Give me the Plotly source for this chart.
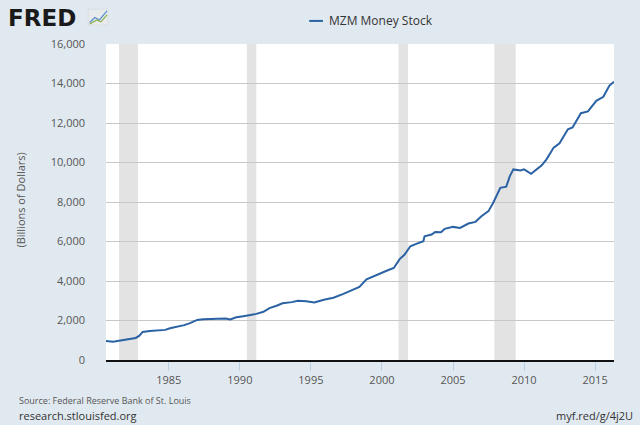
import plotly.graph_objects as go

# MZM money stock, billions of dollars
dates = ["1980-08-01", "1981-02-01", "1981-07-01", "1982-01-01", "1982-09-01", "1982-12-01",
         "1983-03-01", "1983-09-01", "1984-04-01", "1984-10-01", "1985-02-01", "1985-08-01",
         "1986-02-01", "1986-07-01", "1987-01-01", "1987-06-01", "1988-02-01", "1988-08-01",
         "1989-01-01", "1989-05-01", "1989-10-01", "1990-04-01", "1990-11-01", "1991-03-01",
         "1991-09-01", "1992-02-01", "1992-08-01", "1993-01-01", "1993-09-01", "1994-02-01",
         "1994-09-01", "1995-04-01", "1995-12-01", "1996-08-01", "1997-04-01", "1998-01-01",
         "1998-06-01", "1998-12-01", "1999-05-01", "1999-11-01", "2000-05-01", "2000-11-01",
         "2001-04-01", "2001-08-01", "2002-01-01", "2002-06-01", "2002-12-01", "2003-01-01",
         "2003-07-01", "2003-10-01", "2004-03-01", "2004-06-01", "2005-01-01", "2005-07-01",
         "2006-02-01", "2006-08-01", "2007-01-01", "2007-07-01", "2007-11-01", "2008-05-01",
         "2008-10-01", "2009-01-01", "2009-04-01", "2009-10-01", "2010-01-01", "2010-07-01",
         "2010-12-01", "2011-04-01", "2011-08-01", "2012-02-01", "2012-07-01", "2013-02-01",
         "2013-06-01", "2014-01-01", "2014-07-01", "2015-02-01", "2015-08-01", "2016-01-01",
         "2016-05-01"]
mzm = [960, 930, 975, 1045, 1115, 1220,
       1420, 1470, 1505, 1525, 1610, 1675,
       1765, 1865, 2030, 2065, 2085, 2115,
       2100, 2050, 2165, 2220, 2270, 2335,
       2440, 2625, 2745, 2875, 2930, 2995,
       2980, 2910, 3050, 3150, 3335, 3555,
       3700, 4080, 4220, 4360, 4520, 4660,
       5110, 5330, 5760, 5880, 6010, 6260,
       6350, 6485, 6465, 6640, 6740, 6690,
       6910, 6995, 7280, 7535, 7960, 8720,
       8775, 9310, 9650, 9600, 9650, 9430,
       9650, 9855, 10160, 10755, 10975, 11685,
       11770, 12495, 12585, 13120, 13325, 13885,
       14090]

# NBER recessions
rec_start = ["1981-07-01", "1990-07-01", "2001-03-01", "2007-12-01"]
rec_end = ["1982-11-01", "1991-03-01", "2001-11-01", "2009-06-01"]

line_color = "#2a62a3"

fig = go.Figure()
fig.add_trace(go.Scatter(x=dates, y=mzm, mode="lines", name="MZM Money Stock",
                         line=dict(color=line_color, width=2), showlegend=False))

for s, e in zip(rec_start, rec_end):
    fig.add_vrect(x0=s, x1=e, fillcolor="#e3e3e3", opacity=1, line_width=0, layer="below")

fig.update_layout(
    width=640, height=425,
    margin=dict(l=106, r=26, t=44, b=65, autoexpand=False),
    paper_bgcolor="#e1e9f0", plot_bgcolor="white",
    font=dict(family="Open Sans", size=11, color="#555555"),
    xaxis=dict(range=["1980-08-01", "2016-05-01"], showgrid=False,
               tickvals=["1985-01-01", "1990-01-01", "1995-01-01", "2000-01-01",
                         "2005-01-01", "2010-01-01", "2015-01-01"],
               ticktext=["1985", "1990", "1995", "2000", "2005", "2010", "2015"],
               ticks="outside", ticklen=9, tickcolor="#bcd0e4",
               showline=True, linecolor="#111111", linewidth=2, zeroline=False),
    yaxis=dict(range=[0, 16000], dtick=2000, tickformat=",d", showgrid=True,
               gridcolor="#c8c8c8", gridwidth=1, zeroline=False, ticks="",
               ticklabelstandoff=20),
)

# legend drawn by hand (short line sample like FRED's)
fig.add_shape(type="line", xref="paper", yref="paper", x0=0.400, x1=0.427, y0=1.073, y1=1.073,
              line=dict(color=line_color, width=2))
fig.add_annotation(text="MZM Money Stock", x=0.435, y=1.073, xref="paper", yref="paper",
                   xanchor="left", yanchor="middle", showarrow=False,
                   font=dict(size=12, color="#333333"))

# y-axis title
fig.add_annotation(text="(Billions of Dollars)", x=-0.169, y=0.505, xref="paper", yref="paper",
                   textangle=-90, xanchor="center", yanchor="middle", showarrow=False,
                   font=dict(size=11, color="#555555"))

# FRED logo
fig.add_annotation(text="<b>FRED</b>", x=-0.196, y=1.081, xref="paper", yref="paper",
                   xanchor="left", yanchor="middle", showarrow=False,
                   font=dict(family="DejaVu Sans", size=23, color="#1a1a1a"))
fig.add_shape(type="rect", xref="paper", yref="paper", x0=-0.035, x1=0.004, y0=1.060, y1=1.110,
              fillcolor="#e8eaec", line=dict(color="#cfd4d9", width=0.5))
fig.add_shape(type="path", xref="paper", yref="paper",
              path="M -0.032 1.068 L -0.022 1.084 L -0.013 1.076 L 0.002 1.105",
              line=dict(color="#5b8fcf", width=1.2))
fig.add_shape(type="path", xref="paper", yref="paper",
              path="M -0.032 1.063 L -0.018 1.076 L -0.010 1.070 L 0.002 1.092",
              line=dict(color="#8ab34a", width=1.2))

# footer
fig.add_annotation(text="Source: Federal Reserve Bank of St. Louis", x=-0.175, y=-0.127,
                   xref="paper", yref="paper", xanchor="left", yanchor="middle",
                   showarrow=False, font=dict(size=9, color="#555555"))
fig.add_annotation(text="research.stlouisfed.org", x=-0.175, y=-0.175,
                   xref="paper", yref="paper", xanchor="left", yanchor="middle",
                   showarrow=False, font=dict(size=11, color="#333333"))
fig.add_annotation(text="myf.red/g/4j2U", x=1.041, y=-0.175,
                   xref="paper", yref="paper", xanchor="right", yanchor="middle",
                   showarrow=False, font=dict(size=11, color="#333333"))

# drop the browser's default 8px body margin so the figure sits at the window corner
fig.write_html("out.html", config={"displayModeBar": False},
               post_script="document.body.style.margin='0';")
